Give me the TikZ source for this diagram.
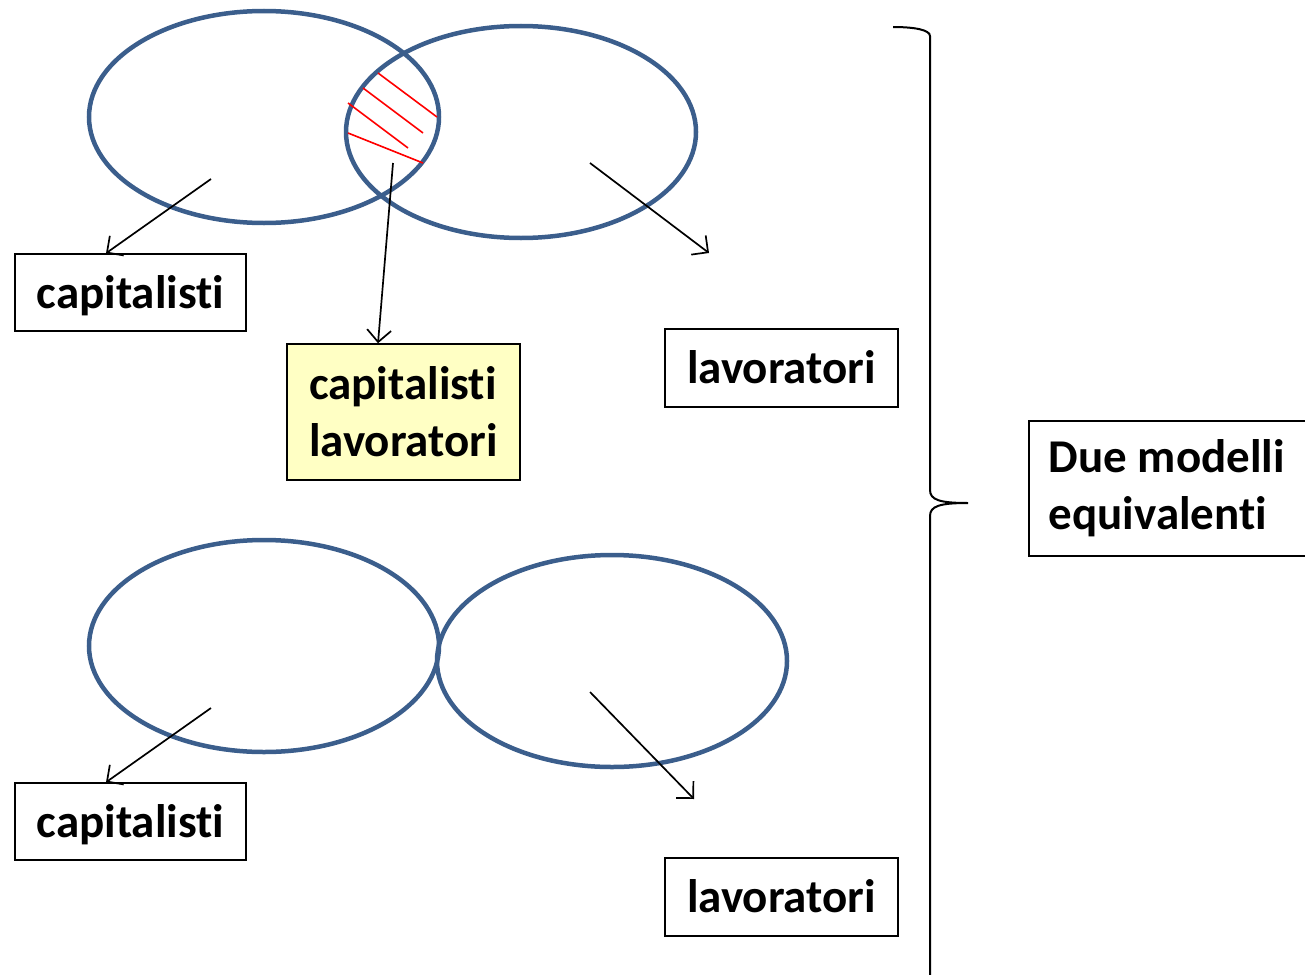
\documentclass[tikz,border=0pt]{standalone}
\usepackage{fontspec}
\setmainfont[Ligatures=NoCommon]{Carlito}
\usetikzlibrary{arrows.meta}
\definecolor{setblue}{RGB}{59,94,140}
\definecolor{boxyellow}{RGB}{255,255,196}
\tikzset{
  setring/.style={draw=setblue, line width=4.5pt},
  labelbox/.style={draw=black, line width=1.5pt, fill=white, minimum width=231pt,
    minimum height=77pt, inner sep=0pt, align=left,
    font=\fontsize{47}{57}\selectfont\bfseries},
  oneline/.style={labelbox, text height=40pt, text depth=9pt},
  pointer/.style={draw=black, line width=1.7pt, -{Straight Barb[length=12pt,width=24pt]}},
  hatch/.style={draw=red, line width=1.6pt},
}
\begin{document}
\begin{tikzpicture}[x=1pt,y=-1pt]
\useasboundingbox (0,0) rectangle (1305,974);

% upper pair of overlapping sets
\draw[setring] (264,117) ellipse [x radius=175, y radius=106];
\draw[setring] (521,132) ellipse [x radius=175, y radius=106];

% hatched intersection
\draw[hatch] (378,73) -- (437,117);
\draw[hatch] (363,88) -- (423,133);
\draw[hatch] (348,103) -- (408,148);
\draw[hatch] (348,133) -- (423,163);

% lower pair of touching sets
\draw[setring] (264,646) ellipse [x radius=175, y radius=106];
\draw[setring] (612,661) ellipse [x radius=175, y radius=106];

% labels
\node[oneline] (capA) at (130.5,292.5) {capitalisti};
\node[labelbox, fill=boxyellow, minimum width=233pt, minimum height=136pt] (mix) at (403.5,412) {capitalisti\\lavoratori};
\node[oneline, minimum width=233pt, minimum height=78pt] (lavA) at (781.5,368) {lavoratori};
\node[oneline] (capB) at (130.5,821.5) {capitalisti};
\node[oneline, minimum width=233pt, minimum height=78pt] (lavB) at (781.5,897) {lavoratori};
\node[labelbox, minimum width=0pt, minimum height=135pt, anchor=north west,
  inner xsep=20pt, text width=270pt, align=flush left] (due) at (1028,420) {Due modelli\\equivalenti};

% arrow start points inside the sets
\coordinate (sA) at (211,179);
\coordinate (sM) at (393,163);
\coordinate (sR) at (590,163);
\coordinate (eR) at (709,253);
\coordinate (sB) at (211,708);
\coordinate (sBR) at (590,692);
\coordinate (eBR) at (694,799);

\draw[pointer] (sA) -- (capA.north west -| 106,0);
\draw[pointer] (sM) -- (mix.north -| 378,0);
\draw[pointer] (sR) -- (eR);
\draw[pointer] (sB) -- (capB.north west -| 106,0);
\draw[pointer] (sBR) -- (eBR);

% brace grouping both models
\coordinate (bTop) at (893,27);
\coordinate (bTip) at (968,503);
\draw[line width=2pt] (bTop) .. controls (915,27) and (930,30) .. (930,36)
  -- (930,490) .. controls (930,500) and (940,503) .. (bTip)
  (bTip) .. controls (940,503) and (930,506) .. (930,516) -- (930,980);
\end{tikzpicture}
\end{document}
